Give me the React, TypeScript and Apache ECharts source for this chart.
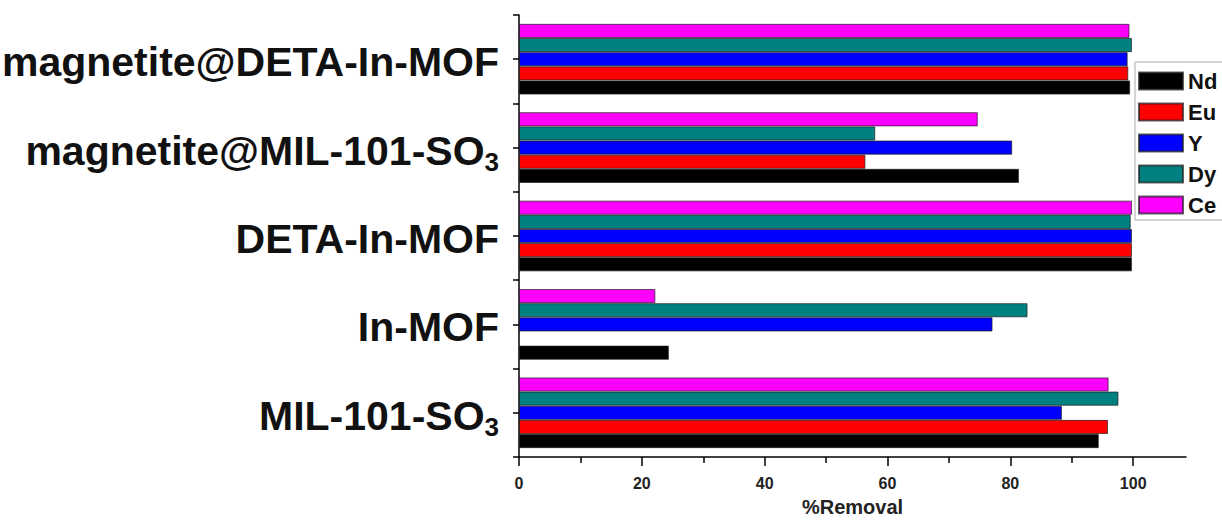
import React, { useEffect, useRef } from "react";
import * as echarts from "echarts";

const categories = [
  "MIL-101-SO3",
  "In-MOF",
  "DETA-In-MOF",
  "magnetite@MIL-101-SO3",
  "magnetite@DETA-In-MOF",
];

const seriesNames = ["Nd", "Eu", "Y", "Dy", "Ce"];
const seriesColors = ["#000000", "#ff0000", "#0000ff", "#008080", "#ff00ff"];

const ndValues = [94.4, 24.4, 99.8, 81.4, 99.5];
const euValues = [95.9, null, 99.8, 56.4, 99.2];
const yValues = [88.4, 77.1, 99.8, 80.3, 99.1];
const dyValues = [97.6, 82.8, 99.6, 58.0, 99.8];
const ceValues = [96.0, 22.2, 99.8, 74.7, 99.4];

const allValues = [ndValues, euValues, yValues, dyValues, ceValues];

const majorTicks = [0, 20, 40, 60, 80, 100];
const minorTicks = [10, 30, 50, 70, 90];

function formatCategory(v: string) {
  if (v.endsWith("SO3")) {
    return "{a|" + v.slice(0, -1) + "}{s|3}";
  }
  return "{a|" + v + "}";
}

export default function App() {
  const ref = useRef<HTMLDivElement>(null);
  useEffect(() => {
    if (!ref.current) return;
    const chart = echarts.init(ref.current, null, { renderer: "svg" });
    const font = "'Liberation Sans', Arial, sans-serif";
    // ECharts stacks the first series at the top of each band, so feed them in reverse
    const order = [4, 3, 2, 1, 0];
    chart.setOption({
      animation: false,
      backgroundColor: "#ffffff",
      textStyle: { fontFamily: font },
      grid: {
        left: 519,
        right: 36,
        top: 15,
        bottom: 64,
        containLabel: false,
        outerBoundsMode: "none",
      },
      legend: {
        orient: "vertical",
        left: 1135,
        top: 62,
        data: seriesNames,
        selectedMode: false,
        icon: "rect",
        itemWidth: 44,
        itemHeight: 17,
        itemGap: 9,
        padding: [8, 40, 4, 3],
        borderColor: "#aaaaaa",
        borderWidth: 1,
        backgroundColor: "#ffffff",
        textStyle: {
          fontFamily: font,
          fontWeight: "bold",
          fontSize: 22,
          lineHeight: 21,
          color: "#111",
        },
      },
      xAxis: [
        {
          type: "value",
          min: 0,
          max: 108.6,
          position: "bottom",
          axisLine: { show: true, lineStyle: { color: "#000", width: 1.5 } },
          axisTick: {
            show: true,
            length: 9,
            customValues: majorTicks,
            lineStyle: { color: "#000", width: 1.5 },
          },
          axisLabel: {
            customValues: majorTicks,
            margin: 18,
            fontSize: 16,
            fontWeight: "bold",
            color: "#222",
            fontFamily: font,
          },
          splitLine: { show: false },
          name: "%Removal",
          nameLocation: "middle",
          nameGap: 40,
          nameTextStyle: {
            fontSize: 20,
            fontWeight: "bold",
            color: "#222",
            fontFamily: font,
          },
        },
        {
          type: "value",
          min: 0,
          max: 108.6,
          position: "bottom",
          axisLine: { show: false },
          axisTick: {
            show: true,
            length: 6,
            customValues: minorTicks,
            lineStyle: { color: "#000", width: 1.5 },
          },
          axisLabel: { show: false },
          splitLine: { show: false },
        },
      ],
      yAxis: [
        {
          type: "category",
          data: categories,
          position: "left",
          axisLine: { show: true, lineStyle: { color: "#000", width: 1.5 } },
          axisTick: { show: false },
          axisLabel: {
            margin: 20,
            formatter: formatCategory,
            rich: {
              a: {
                fontSize: 41,
                fontWeight: "bold",
                color: "#111",
                fontFamily: font,
                lineHeight: 46,
                padding: [6, 0, 0, 0],
              },
              s: {
                fontSize: 26,
                fontWeight: "bold",
                color: "#111",
                fontFamily: font,
                lineHeight: 46,
                padding: [28, 0, 0, 0],
              },
            },
          },
        },
        {
          type: "value",
          min: 0,
          max: 10,
          interval: 1,
          position: "left",
          axisLine: { show: false },
          axisTick: { show: true, length: 6, lineStyle: { color: "#000", width: 1.5 } },
          axisLabel: { show: false },
          splitLine: { show: false },
        },
      ],
      series: order.map((i) => ({
        name: seriesNames[i],
        type: "bar",
        xAxisIndex: 0,
        yAxisIndex: 0,
        data: allValues[i],
        barGap: "0%",
        barCategoryGap: "20%",
        itemStyle: {
          color: seriesColors[i],
          borderColor: "rgba(30,30,30,0.7)",
          borderWidth: 1,
        },
      })),
    });
    return () => chart.dispose();
  }, []);
  return (
    <div
      ref={ref}
      style={{ position: "fixed", left: 0, top: 0, width: 1222, height: 521 }}
    />
  );
}
